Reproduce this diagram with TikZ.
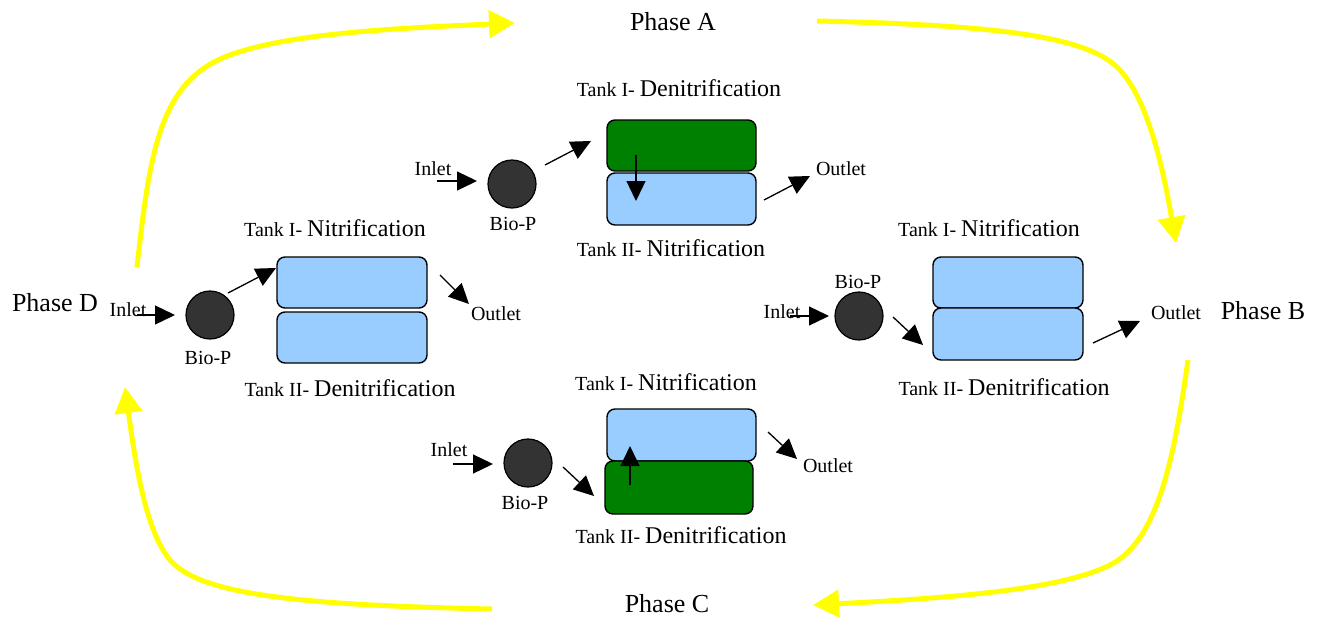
\documentclass[tikz,border=0pt]{standalone}
\usepackage{fontspec}
\setmainfont{Liberation Serif}
\usetikzlibrary{arrows.meta}
\definecolor{tankblue}{HTML}{99CCFF}
\definecolor{tankgreen}{HTML}{008000}
\definecolor{biodark}{HTML}{333333}
\definecolor{phaseyellow}{HTML}{FFFF00}
\tikzset{
  tank/.style={draw=black, line width=1.4pt, rounded corners=8pt, inner sep=0pt,
               minimum width=150pt, minimum height=52pt, fill=tankblue},
  anoxic/.style={tank, fill=tankgreen},
  biop/.style={circle, draw=black, line width=1.2pt, fill=biodark,
               minimum size=48pt, inner sep=0pt},
  flow/.style={line width=1.3pt, -{Triangle[length=20pt,width=19pt]}},
  phasearrow/.style={phaseyellow, line width=5pt,
               -{Triangle[length=26pt,width=27pt]}},
  lbl/.style={font=\fontsize{20}{22}\selectfont, inner sep=0pt},
  phaselbl/.style={font=\fontsize{26}{28}\selectfont, inner sep=0pt},
}
\newcommand{\tanktitle}[2]{{\fontsize{20}{22}\selectfont #1}{\fontsize{24}{26}\selectfont #2}}

\begin{document}
\begin{tikzpicture}[x=1pt, y=-1pt]
\useasboundingbox (0,0) rectangle (1318,619);

% ---------- phase cycle ----------
\node[phaselbl] (phA) at (673,22) {Phase A};
\node[phaselbl] (phB) at (1263,311) {Phase B};
\node[phaselbl] (phC) at (667,604) {Phase C};
\node[phaselbl] (phD) at (55,303) {Phase D};

\coordinate (dA0) at (137,267);  \coordinate (dA1) at (515,23);
\coordinate (aB0) at (817,21);   \coordinate (aB1) at (1176,243);
\coordinate (bC0) at (1188,360); \coordinate (bC1) at (813,605);
\coordinate (cD0) at (492,609);  \coordinate (cD1) at (125,387);

\draw[phasearrow] (dA0) .. controls (150,150) and (160,80) .. (230,55)
                        .. controls (290,33) and (400,28) .. (dA1);
\draw[phasearrow] (aB0) .. controls (990,25) and (1085,35) .. (1118,68)
                        .. controls (1150,100) and (1165,180) .. (aB1);
\draw[phasearrow] (bC0) .. controls (1175,450) and (1160,540) .. (1110,565)
                        .. controls (1060,590) and (950,598) .. (bC1);
\draw[phasearrow] (cD0) .. controls (300,605) and (200,595) .. (170,560)
                        .. controls (145,530) and (135,460) .. (cD1);

% ---------- phase A (top) ----------
\node[lbl] at (679,88) {\tanktitle{Tank I- }{Denitrification}};
\node[lbl] at (671,248) {\tanktitle{Tank II- }{Nitrification}};
\node[anoxic, minimum width=149pt, minimum height=51pt] (aT1) at (681.5,145.5) {};
\node[tank, minimum width=149pt] (aT2) at (681.5,199) {};
\node[biop] (aBio) at (512,184) {};
\node[lbl] (aIn) at (433,169) {Inlet};
\node[lbl] at (513,224) {Bio-P};
\node[lbl] (aOut) at (841,169) {Outlet};
\coordinate (aIn0) at (437,181);  \coordinate (aIn1) at (477,181);
\coordinate (aF0) at (545,165);   \coordinate (aF1) at (591,141);
\coordinate (aX0) at (636,155);   \coordinate (aX1) at (636,201);
\coordinate (aO0) at (764,200);   \coordinate (aO1) at (810,176);
\draw[flow] (aIn0) -- (aIn1);
\draw[flow] (aF0) -- (aF1);
\draw[flow] (aX0) -- (aX1);
\draw[flow] (aO0) -- (aO1);

% ---------- phase D (left) ----------
\node[lbl] at (335,228) {\tanktitle{Tank I- }{Nitrification}};
\node[lbl] at (350,388) {\tanktitle{Tank II- }{Denitrification}};
\node[tank, minimum height=51pt] (dT1) at (352,282.5) {};
\node[tank, minimum height=51pt] (dT2) at (352,337.5) {};
\node[biop] (dBio) at (210,315) {};
\node[lbl] (dIn) at (128,310) {Inlet};
\node[lbl] at (208,358) {Bio-P};
\node[lbl] (dOut) at (496,314) {Outlet};
\coordinate (dIn0) at (137,315);  \coordinate (dIn1) at (175,315);
\coordinate (dF0) at (228,293);   \coordinate (dF1) at (276,268);
\coordinate (dO0) at (440,275);   \coordinate (dO1) at (469,304);
\draw[flow] (dIn0) -- (dIn1);
\draw[flow] (dF0) -- (dF1);
\draw[flow] (dO0) -- (dO1);

% ---------- phase B (right) ----------
\node[lbl] at (989,228) {\tanktitle{Tank I- }{Nitrification}};
\node[lbl] at (1004,387) {\tanktitle{Tank II- }{Denitrification}};
\node[tank, minimum height=51pt] (bT1) at (1008,282.5) {};
\node[tank] (bT2) at (1008,334) {};
\node[biop] (bBio) at (859,316) {};
\node[lbl] (bIn) at (782,312) {Inlet};
\node[lbl] at (858,282) {Bio-P};
\node[lbl] (bOut) at (1176,313) {Outlet};
\coordinate (bIn0) at (790,316);  \coordinate (bIn1) at (829,316);
\coordinate (bF0) at (893,317);   \coordinate (bF1) at (923,345);
\coordinate (bO0) at (1093,343);  \coordinate (bO1) at (1140,321);
\draw[flow] (bIn0) -- (bIn1);
\draw[flow] (bF0) -- (bF1);
\draw[flow] (bO0) -- (bO1);

% ---------- phase C (bottom) ----------
\node[lbl] at (666,382) {\tanktitle{Tank I- }{Nitrification}};
\node[lbl] at (681,535) {\tanktitle{Tank II- }{Denitrification}};
\node[tank, minimum width=149pt] (cT1) at (681.5,435) {};
\node[anoxic, minimum width=148pt, minimum height=53pt] (cT2) at (679,487.5) {};
\node[biop] (cBio) at (528,463) {};
\node[lbl] (cIn) at (449,450) {Inlet};
\node[lbl] at (525,503) {Bio-P};
\node[lbl] (cOut) at (828,466) {Outlet};
\coordinate (cIn0) at (453,464); \coordinate (cIn1) at (493,464);
\coordinate (cF0) at (563,467);  \coordinate (cF1) at (594,496);
\coordinate (cX0) at (630,485);  \coordinate (cX1) at (630,446);
\coordinate (cO0) at (768,432);  \coordinate (cO1) at (797,459);
\draw[flow] (cIn0) -- (cIn1);
\draw[flow] (cF0) -- (cF1);
\draw[flow] (cX0) -- (cX1);
\draw[flow] (cO0) -- (cO1);
\end{tikzpicture}
\end{document}
